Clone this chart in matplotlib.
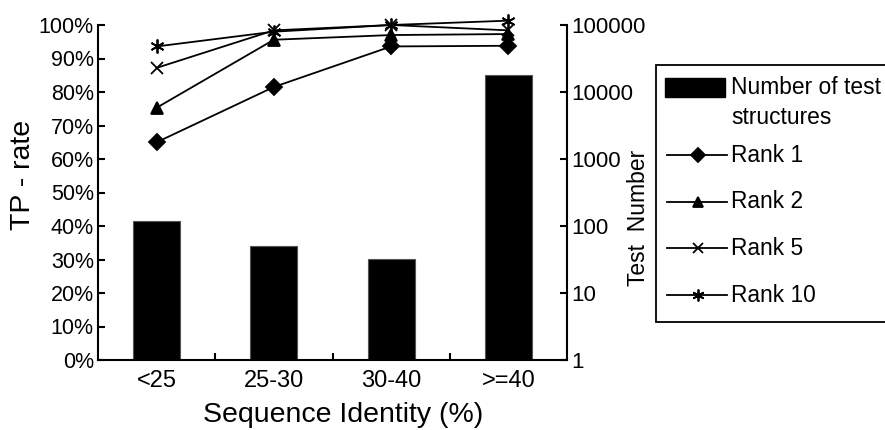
import matplotlib
matplotlib.use('Agg')
import matplotlib.pyplot as plt
from matplotlib.lines import Line2D
from matplotlib.patches import Rectangle
from matplotlib.ticker import NullLocator

plt.rcParams['font.family'] = ['Liberation Sans', 'DejaVu Sans']

categories = ['<25', '25-30', '30-40', '>=40']
test_counts = [120, 50, 32, 17800]
rank1 = [65.0, 81.5, 93.6, 93.8]
rank2 = [75.3, 95.6, 97.0, 97.3]
rank5 = [87.2, 98.4, 100.0, 98.4]
rank10 = [93.6, 98.0, 100.0, 101.3]
pct_ticks = [0, 10, 20, 30, 40, 50, 60, 70, 80, 90, 100]
count_ticks = [1, 10, 100, 1000, 10000, 100000]

asterisk = (6, 2, 0)
series = [
    (rank1, 'Rank 1', 'D', 8),
    (rank2, 'Rank 2', '^', 8),
    (rank5, 'Rank 5', 'x', 8.5),
    (rank10, 'Rank 10', asterisk, 10),
]

fig = plt.figure(figsize=(8.85, 4.3), dpi=100)
ax = fig.add_axes([98 / 885, 1 - 360 / 430, (567 - 98) / 885, (360 - 25) / 430])
ax2 = ax.twinx()

x = list(range(len(categories)))

# bars on the log axis
ax2.bar(x, test_counts, width=0.4, color='black', edgecolor='#555555', linewidth=0.8)
ax2.set_yscale('log')
ax2.set_ylim(1, 100000)
ax2.set_yticks(count_ticks)
ax2.set_yticklabels([str(c) for c in count_ticks])
ax2.yaxis.set_minor_locator(NullLocator())

# lines on the percent axis, above the bars
ax.set_zorder(ax2.get_zorder() + 1)
ax.patch.set_visible(False)
for vals, lab, mk, ms in series:
    ax.plot(x, vals, color='black', lw=1.3, marker=mk, markersize=ms,
            markeredgewidth=1.3, markerfacecolor='black', markeredgecolor='black',
            clip_on=False)

ax.set_xlim(-0.5, 3.5)
ax.set_ylim(0, 100)
ax.set_yticks(pct_ticks)
ax.set_yticklabels(['%d%%' % p for p in pct_ticks])
ax.set_xticks(x)
ax.set_xticklabels(categories)
ax.set_xticks([0.5, 1.5, 2.5], minor=True)

for a in (ax, ax2):
    a.spines['top'].set_visible(False)
    for s in a.spines.values():
        s.set_linewidth(1.5)
ax.spines['right'].set_visible(False)
ax2.spines['left'].set_visible(False)
ax2.spines['bottom'].set_visible(False)

ax.tick_params(axis='y', direction='in', length=5, width=1.5, labelsize=15.5, pad=3)
ax.tick_params(axis='x', which='major', length=0, labelsize=17, pad=7)
ax.tick_params(axis='x', which='minor', direction='in', length=5, width=1.5)
ax2.tick_params(axis='y', direction='in', length=5, width=1.5, labelsize=16, pad=3)

ax.set_ylabel('TP - rate', fontsize=20.5)
ax.yaxis.set_label_coords(-0.132, 0.552)
ax.set_xlabel('Sequence Identity (%)', fontsize=20.5)
ax.xaxis.set_label_coords(0.522, -0.124)
ax2.set_ylabel('Test  Number', fontsize=16.5)
ax2.yaxis.set_label_coords(1.127, 0.424)

# legend box (runs off the right edge like the original)
lx0, ly0, ly1 = 656 / 885, 1 - 322 / 430, 1 - 65 / 430
fig.add_artist(Rectangle((lx0, ly0), 1.0, ly1 - ly0, transform=fig.transFigure,
                         facecolor='white', edgecolor='black', linewidth=1.3))
fig.add_artist(Rectangle((665 / 885, 1 - 97 / 430), 60 / 885, 19 / 430,
                         transform=fig.transFigure, facecolor='black', edgecolor='black'))
fig.text(731 / 885, 1 - 88 / 430, 'Number of test', fontsize=16.4, va='center', ha='left')
fig.text(731 / 885, 1 - 117 / 430, 'structures', fontsize=16.4, va='center', ha='left')
for i, (vals, lab, mk, ms) in enumerate(series):
    yy = 1 - (155 + i * 46.7) / 430
    fig.add_artist(Line2D([667 / 885, 727 / 885], [yy, yy], transform=fig.transFigure,
                          color='black', lw=1.3))
    fig.add_artist(Line2D([698 / 885], [yy], transform=fig.transFigure, color='black',
                          marker=mk, markersize=ms * 0.85, markeredgewidth=1.3,
                          markerfacecolor='black', markeredgecolor='black'))
    fig.text(731 / 885, yy, lab, fontsize=16.4, va='center', ha='left')

fig.savefig('out.png', dpi=100)
